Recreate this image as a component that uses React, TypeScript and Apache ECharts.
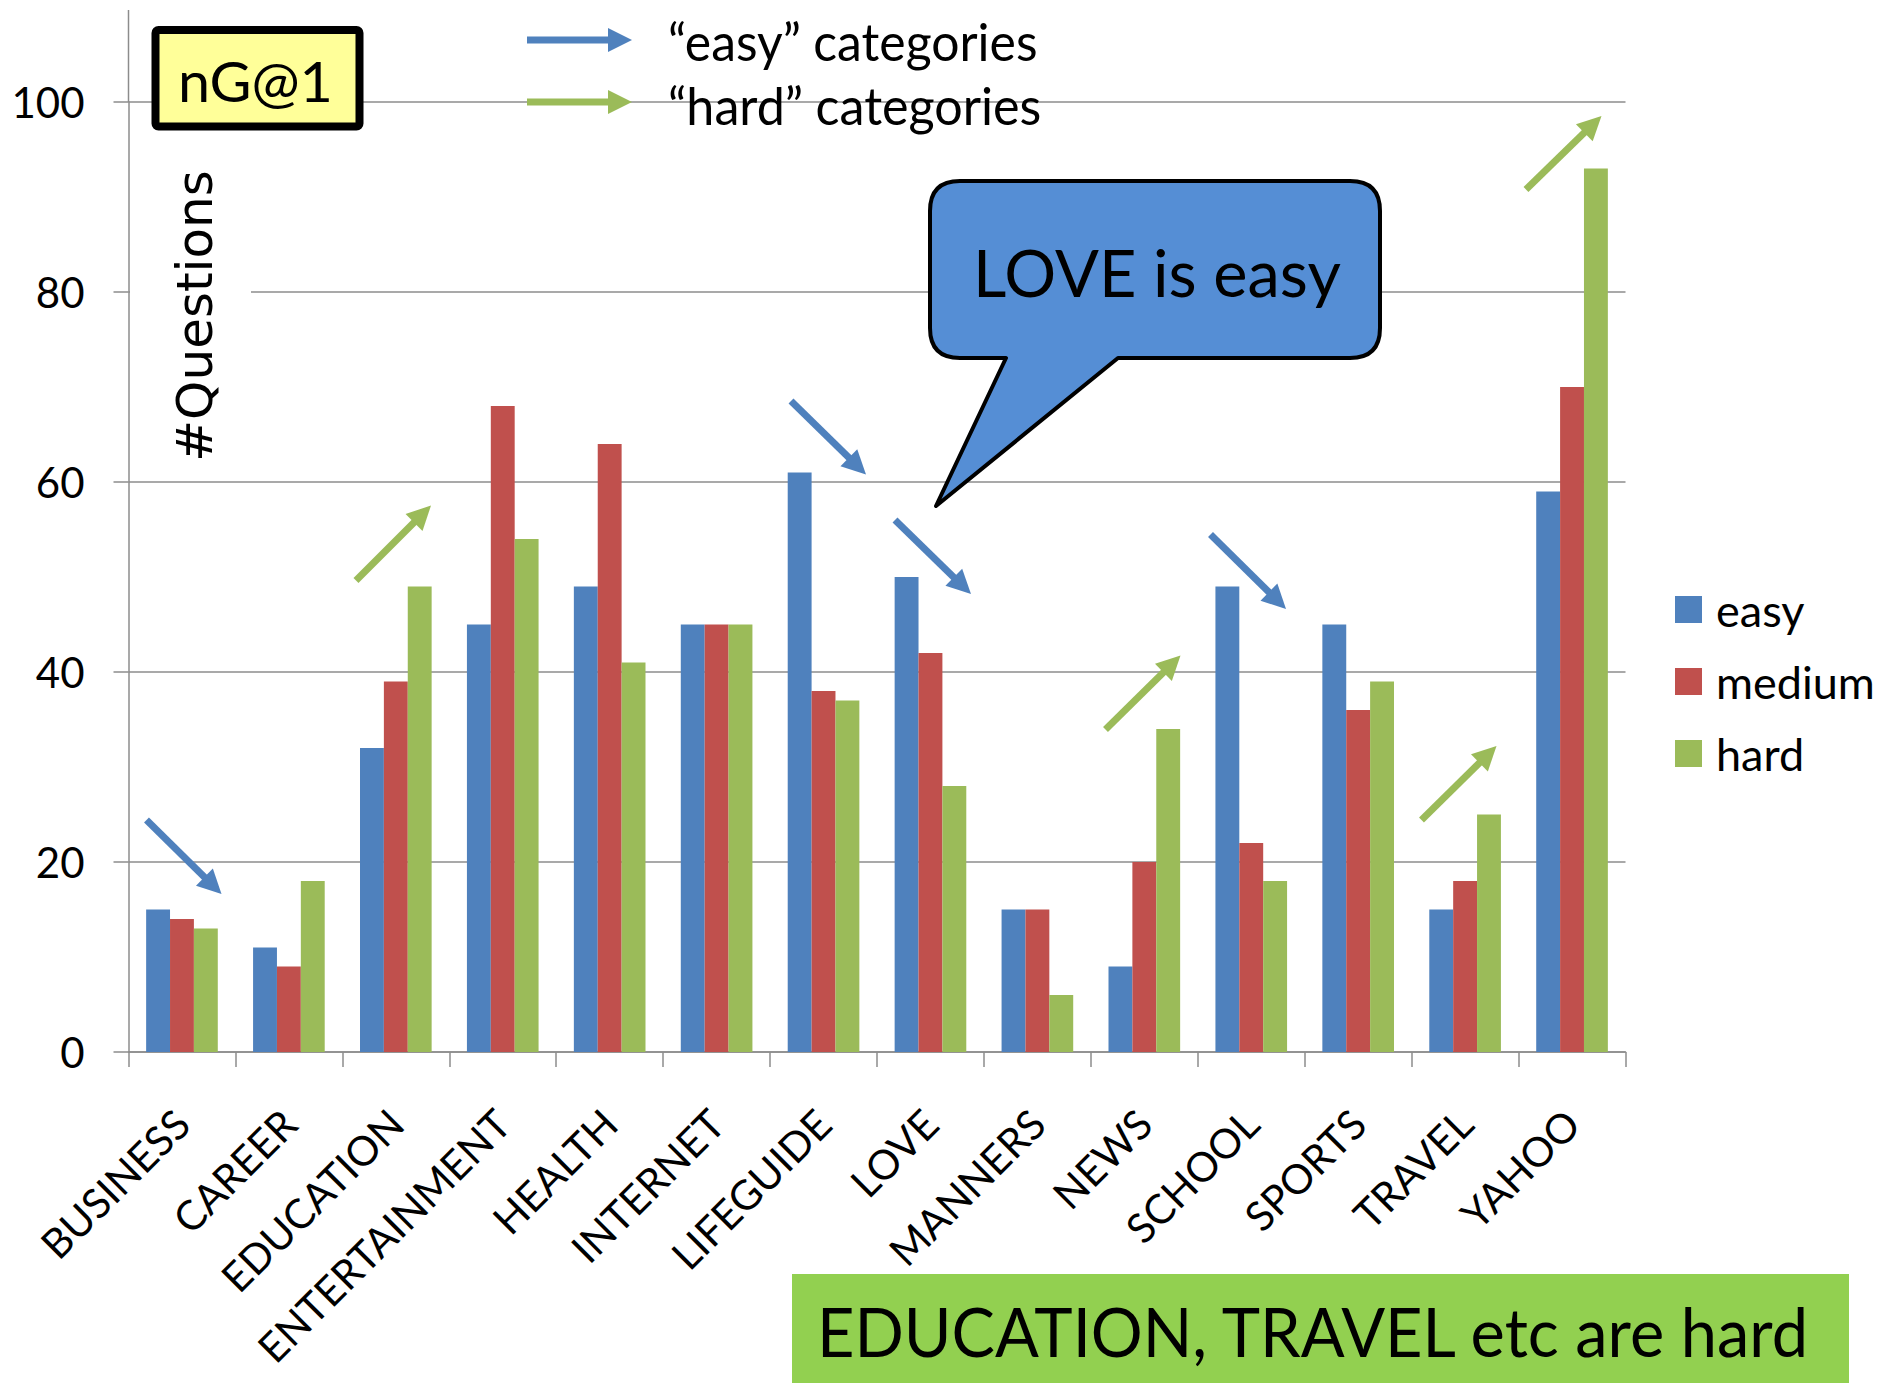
import { useEffect, useRef } from 'react';
import * as echarts from 'echarts';

// Question categories and counts per difficulty level
const categories = [
  'BUSINESS', 'CAREER', 'EDUCATION', 'ENTERTAINMENT', 'HEALTH', 'INTERNET', 'LIFEGUIDE',
  'LOVE', 'MANNERS', 'NEWS', 'SCHOOL', 'SPORTS', 'TRAVEL', 'YAHOO',
];
const easy = [15, 11, 32, 45, 49, 45, 61, 50, 15, 9, 49, 45, 15, 59];
const medium = [14, 9, 39, 68, 64, 45, 38, 42, 15, 20, 22, 36, 18, 70];
const hard = [13, 18, 49, 54, 41, 45, 37, 28, 6, 34, 18, 39, 25, 93];
const seriesNames = ['easy', 'medium', 'hard'];

const COLORS = { easy: '#4F81BD', medium: '#C0504D', hard: '#9BBB59' };
const AXIS_GRAY = '#8C8C8C';

// Plot area in page pixels
const GRID = { left: 128.5, top: 102, right: 257.5, bottom: 331 };

// Annotation arrows [x1, y1, x2 (tip), y2 (tip)]
const blueArrows = [
  [146.5, 820, 221.5, 894],
  [791, 401, 866, 474.5],
  [895, 520, 971, 594],
  [1210.5, 534.5, 1286, 609],
];
const greenArrows = [
  [356, 580.5, 431, 505.5],
  [1105.5, 729.5, 1180.5, 655.5],
  [1421.5, 820, 1496.5, 746],
  [1526, 189.5, 1601.5, 116],
];

function measure(text: string, font: string): number {
  const c = document.createElement('canvas').getContext('2d')!;
  c.font = font;
  return c.measureText(text).width;
}

function fitScale(text: string, size: number, family: string, width: number): number {
  const w = measure(text, `${size}px ${family}`);
  return w > 0 ? width / w : 1;
}

function arrow(x1: number, y1: number, x2: number, y2: number, color: string) {
  const dx = x2 - x1;
  const dy = y2 - y1;
  const len = Math.hypot(dx, dy);
  const ux = dx / len;
  const uy = dy / len;
  const headLen = 24;
  const headHalf = 12;
  const bx = x2 - ux * headLen;
  const by = y2 - uy * headLen;
  const nx = -uy;
  const ny = ux;
  return {
    type: 'group',
    z: 100,
    children: [
      {
        type: 'line',
        z: 100,
        shape: { x1, y1, x2: bx + ux * 2, y2: by + uy * 2 },
        style: { stroke: color, lineWidth: 7 },
      },
      {
        type: 'polygon',
        z: 100,
        shape: {
          points: [
            [x2, y2],
            [bx + nx * headHalf, by + ny * headHalf],
            [bx - nx * headHalf, by - ny * headHalf],
          ],
        },
        style: { fill: color },
      },
    ],
  };
}

const BUBBLE_D =
  'M 960 181 H 1350 Q 1380 181 1380 211 V 328 Q 1380 358 1350 358 H 1118 L 936 506 L 1006 358 H 960 Q 930 358 930 328 V 211 Q 930 181 960 181 Z';

export default function App() {
  const ref = useRef<HTMLDivElement>(null);

  useEffect(() => {
    if (!ref.current) return;
    echarts.graphic.registerShape('bubble', echarts.graphic.extendPath(BUBBLE_D, {}));
    const chart = echarts.init(ref.current, null, { renderer: 'svg' });

    const sans = 'Lato';
    const text = (
      str: string,
      x: number,
      y: number,
      size: number,
      width: number,
      align: 'left' | 'center' = 'center',
    ) => ({
      type: 'text',
      z: 110,
      x,
      y,
      scaleX: fitScale(str, size, sans, width),
      style: {
        text: str,
        font: `${size}px ${sans}`,
        fill: '#000',
        align,
        verticalAlign: 'middle',
      },
    });

    const graphic: any[] = [
      // axis line continues above the top gridline
      {
        type: 'line',
        z: 5,
        shape: { x1: GRID.left, y1: 10, x2: GRID.left, y2: GRID.top },
        style: { stroke: AXIS_GRAY, lineWidth: 1.5 },
      },
      // white backing behind the axis title
      {
        type: 'rect',
        z: 90,
        shape: { x: 130, y: 160, width: 121, height: 310 },
        style: { fill: '#fff' },
      },
      {
        type: 'text',
        z: 110,
        x: 195,
        y: 316,
        rotation: Math.PI / 2,
        style: {
          text: '#Questions',
          font: '50px "DejaVu Sans"',
          fill: '#000',
          align: 'center',
          verticalAlign: 'middle',
        },
      },
      // nG@1 tag
      {
        type: 'rect',
        z: 100,
        shape: { x: 155.5, y: 30, width: 204, height: 96.5, r: 3 },
        style: { fill: '#FFFF99', stroke: '#000', lineWidth: 8 },
      },
      text('nG@1', 255.5, 80.5, 56, 155),
      // arrow key
      arrow(527, 40, 632, 40, COLORS.easy),
      arrow(527, 102, 632, 102, COLORS.hard),
      text('\u201Ceasy\u201D categories', 668, 41.5, 52, 370, 'left'),
      text('\u201Chard\u201D categories', 668, 105, 52, 374, 'left'),
      // speech bubble
      {
        type: 'bubble',
        z: 100,
        x: 0,
        y: 0,
        style: { fill: '#558ED5', stroke: '#000', lineWidth: 4, lineJoin: 'round' },
      },
      text('LOVE is easy', 1157, 272, 65, 368),
      // bottom banner
      {
        type: 'rect',
        z: 100,
        shape: { x: 792, y: 1274, width: 1057, height: 109 },
        style: { fill: '#92D050' },
      },
      text('EDUCATION, TRAVEL etc are hard', 1312.5, 1331.5, 67, 995),
      ...blueArrows.map((a) => arrow(a[0], a[1], a[2], a[3], COLORS.easy)),
      ...greenArrows.map((a) => arrow(a[0], a[1], a[2], a[3], COLORS.hard)),
    ];

    const values = [easy, medium, hard];
    const option: any = {
      animation: false,
      backgroundColor: '#fff',
      grid: { ...GRID, containLabel: false, outerBoundsMode: 'none' },
      legend: {
        data: seriesNames,
        orient: 'vertical',
        left: 1670,
        top: 582,
        icon: 'rect',
        itemWidth: 27,
        itemHeight: 27,
        itemGap: 27,
        textStyle: {
          fontFamily: sans,
          fontSize: 45,
          lineHeight: 40,
          color: '#000',
          padding: [0, 0, 0, 9],
        },
      },
      xAxis: {
        type: 'category',
        data: categories,
        axisLine: { lineStyle: { color: AXIS_GRAY, width: 1.5 } },
        axisTick: { show: true, length: 15, lineStyle: { color: AXIS_GRAY, width: 1.5 } },
        axisLabel: {
          interval: 0,
          rotate: 45,
          margin: 64.5,
          fontFamily: sans,
          fontSize: 41,
          color: '#000',
        },
      },
      yAxis: {
        type: 'value',
        min: 0,
        max: 100,
        interval: 20,
        axisLine: { show: true, lineStyle: { color: AXIS_GRAY, width: 1.5 } },
        axisTick: { show: true, length: 15, lineStyle: { color: AXIS_GRAY, width: 1.5 } },
        splitLine: { show: true, lineStyle: { color: AXIS_GRAY, width: 1.5 } },
        axisLabel: { margin: 44, fontFamily: sans, fontSize: 42, color: '#000' },
      },
      series: seriesNames.map((name, i) => ({
        name,
        type: 'bar',
        data: values[i],
        barGap: '0%',
        barCategoryGap: '33%',
        itemStyle: { color: (COLORS as any)[name] },
      })),
      graphic,
    };

    chart.setOption(option);
    return () => chart.dispose();
  }, []);

  return (
    <div
      ref={ref}
      style={{ position: 'absolute', left: 0, top: 0, width: 1883, height: 1383, background: '#fff' }}
    />
  );
}
